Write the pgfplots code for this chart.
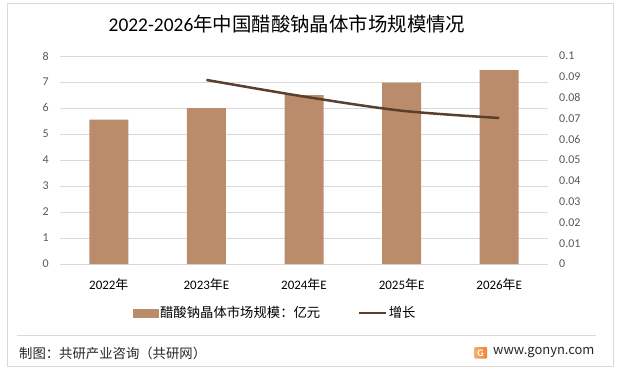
\documentclass[border=0pt]{standalone}
\usepackage{fontspec}
\setmainfont{Carlito}
\newfontfamily\cjk{Noto Sans CJK SC}
\usepackage{pgfplots}
\pgfplotsset{compat=1.18}
\definecolor{barc}{HTML}{BA8C6C}
\definecolor{linec}{HTML}{5A3F2D}
\definecolor{gridc}{HTML}{D9D9D9}
\definecolor{tickc}{HTML}{595959}
\definecolor{borderc}{HTML}{D9D9D9}
\definecolor{logoA}{HTML}{F7B267}
\definecolor{logoB}{HTML}{F0803C}
\begin{document}
\begin{tikzpicture}[x=1bp,y=1bp]
\fill[white] (0,0) rectangle (620,372);
\draw[borderc, line width=1bp] (7,5.5) rectangle (613,368);
\draw[borderc, line width=1bp] (17,37) -- (596,37);
\node[font=\cjk\fontsize{19.5}{19.5}\selectfont, text=black, inner sep=0] at (287,348) {{\rmfamily 2022-2026}年中国醋酸钠晶体市场规模情况};

\begin{axis}[
  at={(60bp,108bp)}, anchor=south west,
  width=488bp, height=208bp, scale only axis,
  xmin=-0.5, xmax=4.5, ymin=0, ymax=8,
  axis line style={draw=none}, tick style={draw=none},
  xtick={0,1,2,3,4},
  xticklabels={{2022{\cjk 年}},{2023{\cjk 年}E},{2024{\cjk 年}E},{2025{\cjk 年}E},{2026{\cjk 年}E}},
  ytick={0,1,2,3,4,5,6,7,8},
  ymajorgrids, grid style={gridc, line width=1bp},
  /pgf/number format/assume math mode=true,
  yticklabel style={text=tickc, anchor=east, inner sep=0, xshift=-11bp, font=\fontsize{12}{12}\selectfont},
  xticklabel style={text=black, anchor=center, inner sep=0, yshift=-21bp, font=\fontsize{13}{13}\selectfont},
  clip=false,
]
\addplot[ybar, bar width=39bp, fill=barc, draw=none] coordinates {(0,5.55) (1,6.0) (2,6.5) (3,6.98) (4,7.46)};
\end{axis}

\begin{axis}[
  at={(60bp,108bp)}, anchor=south west,
  width=488bp, height=208bp, scale only axis,
  xmin=-0.5, xmax=4.5, ymin=0, ymax=0.1,
  axis y line*=right, axis x line=none,
  axis line style={draw=none}, tick style={draw=none},
  ytick={0,0.01,0.02,0.03,0.04,0.05,0.06,0.07,0.08,0.09,0.1},
  scaled y ticks=false,
  /pgf/number format/assume math mode=true,
  /pgf/number format/fixed, /pgf/number format/precision=2,
  yticklabel style={text=tickc, anchor=west, inner sep=0, xshift=11bp, font=\fontsize{12}{12}\selectfont},
  legend style={at={(0.1496,-0.2356)}, anchor=west, draw=none, fill=none, inner sep=0,
    legend columns=2, font=\cjk\fontsize{13.4}{13.4}\selectfont,
    /tikz/every even column/.append style={column sep=36bp},
    nodes={inner sep=1.5bp}},
  clip=false,
]
\addlegendimage{legend image code/.code={\fill[barc] (0bp,-4bp) rectangle (25bp,4bp);}}
\addlegendentry{醋酸钠晶体市场规模：亿元}
\addplot[smooth, linec, line width=2.5bp,
  legend image code/.code={\draw[linec, line width=2.5bp] (0bp,0bp) -- (27bp,0bp);}]
  coordinates {(1,0.0885) (2,0.0805) (3,0.0737) (4,0.0702)};
\addlegendentry{增长}
\end{axis}

\node[anchor=west, font=\cjk\fontsize{13.4}{13.4}\selectfont, text=black!85, inner sep=0] at (19,19) {制图：共研产业咨询（共研网）};
\shade[left color=logoA, right color=logoB, rounded corners=1bp] (474,13.5) rectangle (487,25);
\node[text=white, font=\bfseries\fontsize{10}{10}\selectfont, inner sep=0] at (480.5,19.2) {G};
\node[anchor=west, font=\cjk\fontsize{13}{13}\selectfont, text=black!85, inner sep=0] at (493,19) {www.gonyn.com};
\end{tikzpicture}
\end{document}
